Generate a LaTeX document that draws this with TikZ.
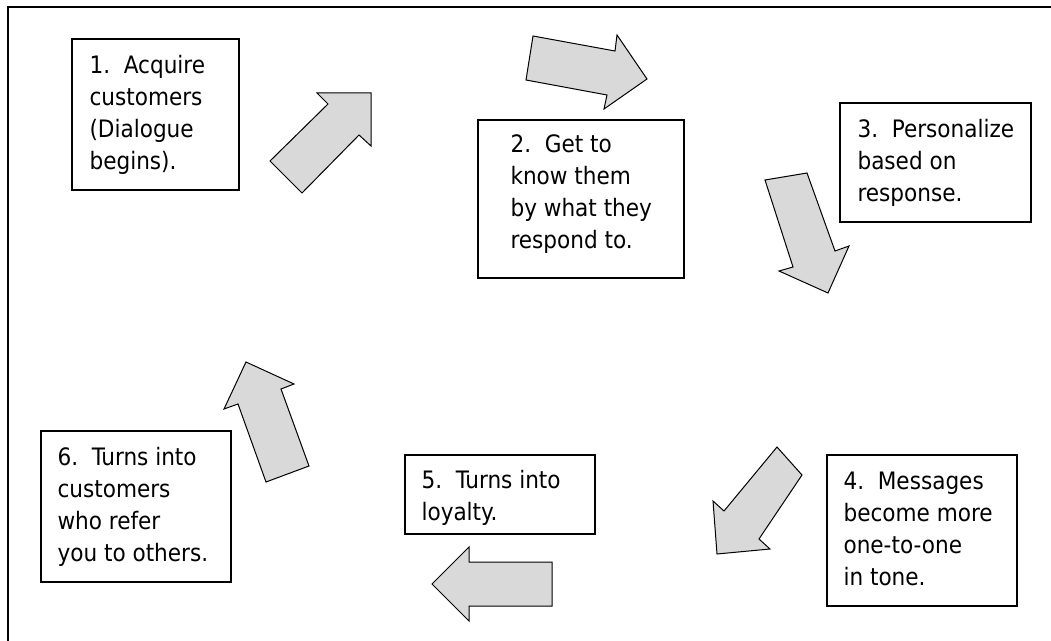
\documentclass[tikz,border=0pt]{standalone}
\usepackage{fontspec}
\setmainfont{DejaVu Sans Condensed}
\usetikzlibrary{positioning}
\tikzset{
  stepbox/.style={draw,line width=1.3bp,rectangle},
  steptext/.style={align=left,inner sep=0pt,
    font=\fontsize{24bp}{32bp}\selectfont},
  blockarrow/.style={draw,line width=1bp,fill=black!15,line join=miter}
}

\begin{document}
\begin{tikzpicture}[x=1bp,y=-1bp]
  \useasboundingbox (0,0) rectangle (1051,641);
  \clip (0,0) rectangle (1051,641);
  % outer frame, cut off at right and bottom
  \draw[line width=2bp] (8,7) rectangle (1070,660);
  % the six steps
  \node[stepbox,minimum width=167bp,minimum height=151bp] (acquire) at (155.5,114.5) {};
  \node[steptext,right=18bp of acquire.west] (acquirelbl) {1.\ \ Acquire\\customers\\(Dialogue\\begins).};
  \node[stepbox,minimum width=206bp,minimum height=158bp] (know) at (581,199) {};
  \node[steptext,right=33bp of know.west,yshift=5bp] (knowlbl) {2.\ \ Get to\\know them\\by what they\\respond to.};
  \node[stepbox,minimum width=191bp,minimum height=119bp] (personal) at (935.5,162.5) {};
  \node[steptext,right=18bp of personal.west] (personallbl) {3.\ \ Personalize\\based on\\response.};
  \node[stepbox,minimum width=190bp,minimum height=151bp] (messages) at (922,530.5) {};
  \node[steptext,right=17bp of messages.west,yshift=2bp] (messageslbl) {4.\ \ Messages\\become more\\one-to-one\\in tone.};
  \node[stepbox,minimum width=190bp,minimum height=79bp] (loyalty) at (500,494.5) {};
  \node[steptext,right=17bp of loyalty.west,yshift=-3bp] (loyaltylbl) {5.\ \ Turns into\\loyalty.};
  \node[stepbox,minimum width=190bp,minimum height=151bp] (refer) at (136,506.5) {};
  \node[steptext,right=17bp of refer.west] (referlbl) {6.\ \ Turns into\\customers\\who refer\\you to others.};
  % block arrows between the steps
  \draw[blockarrow] (270,161) -- (328,104) -- (317,93) -- (371,93) -- (371,146) -- (359,135) -- (302,193) -- cycle;
  \draw[blockarrow] (533,36) -- (615,51) -- (617,35) -- (647,79) -- (604,109) -- (607,95) -- (526,80) -- cycle;
  \draw[blockarrow] (765,180) -- (807,173) -- (835,251) -- (849,246) -- (828,293) -- (779,271) -- (793,267) -- cycle;
  \draw[blockarrow] (777,447) -- (802,475) -- (759,539) -- (770,549) -- (717,554) -- (713,501) -- (724,511) -- cycle;
  \draw[blockarrow] (552,562) -- (469,562) -- (469,547) -- (432,584) -- (469,621) -- (469,606) -- (552,606) -- cycle;
  \draw[blockarrow] (266,482) -- (309,466) -- (281,389) -- (294,384) -- (246,362) -- (224,409) -- (238,404) -- cycle;
\end{tikzpicture}
\end{document}
